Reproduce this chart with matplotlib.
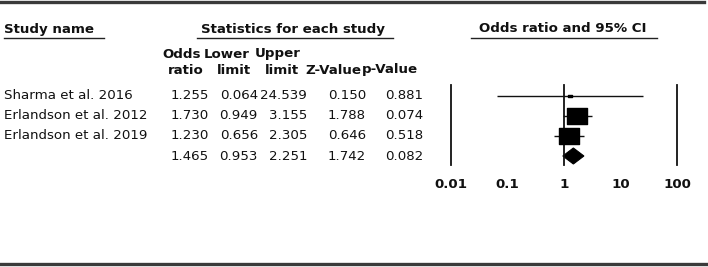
import matplotlib
matplotlib.use("Agg")
import matplotlib.pyplot as plt
from matplotlib.lines import Line2D
from matplotlib.patches import Polygon
from matplotlib.path import Path

# ---------------- data ----------------
studies = ["Sharma et al. 2016", "Erlandson et al. 2012", "Erlandson et al. 2019", ""]
odds_ratio = [1.255, 1.730, 1.230, 1.465]
lower_limit = [0.064, 0.949, 0.656, 0.953]
upper_limit = [24.539, 3.155, 2.305, 2.251]
z_value = [0.150, 1.788, 0.646, 1.742]
p_value = [0.881, 0.074, 0.518, 0.082]
tick_values = [0.01, 0.1, 1, 10, 100]
tick_labels = ["0.01", "0.1", "1", "10", "100"]

# ---------------- figure ----------------
W, H = 708, 267
fig = plt.figure(figsize=(W / 100, H / 100), dpi=100)
FONT = "DejaVu Sans"
FS = 9.6
TXT = "#111111"


def fx(x):
    return x / W


def fy(y):
    return 1 - y / H


def hline(x0, x1, y, lw=1.0, color="#222222"):
    fig.add_artist(Line2D([fx(x0), fx(x1)], [fy(y), fy(y)], lw=lw, color=color,
                          transform=fig.transFigure))


# frame lines
hline(0, 704, 1.5, lw=2.4, color="#3a3a3a")
hline(0, 708, 263.5, lw=2.4, color="#3a3a3a")

# group headers
fig.text(fx(4), fy(29), "Study name", ha="left", va="center", fontsize=FS,
         fontweight="bold", family=FONT, color=TXT)
hline(4, 104, 38)
fig.text(fx(293), fy(29), "Statistics for each study", ha="center", va="center",
         fontsize=FS, fontweight="bold", family=FONT, color=TXT)
hline(197, 393, 38)
fig.text(fx(563), fy(29), "Odds ratio and 95% CI", ha="center", va="center",
         fontsize=FS, fontweight="bold", family=FONT, color=TXT)
hline(471, 657, 38)

# column headers
col_heads = [("Odds", 182, 54), ("ratio", 186, 70), ("Lower", 227, 54), ("limit", 234, 70),
             ("Upper", 278, 54), ("limit", 282, 70), ("Z-Value", 333, 70), ("p-Value", 390, 70)]
for t, x, y in col_heads:
    fig.text(fx(x), fy(y), t, ha="center", va="center", fontsize=FS,
             fontweight="bold", family=FONT, color=TXT)

# forest axes
ax = fig.add_axes([fx(451), fy(165), 226 / W, 80 / H])
ax.set_xscale("log")
ax.set_xlim(0.01, 100)
ax.set_ylim(3.45, -0.55)
for s in ax.spines.values():
    s.set_visible(False)
ax.set_yticks([])
ax.set_xticks(tick_values)
ax.set_xticklabels(tick_labels, fontsize=FS, fontweight="bold", family=FONT, color=TXT)
ax.minorticks_off()
ax.tick_params(axis="x", length=0, pad=9)
ax.patch.set_alpha(0)
for v in [0.01, 1, 100]:
    ax.axvline(v, color="#111111", lw=1.3, clip_on=False)

rows = list(range(len(studies)))

# table text (rows tied to the forest axis y positions)
import matplotlib.transforms as mtrans
tr = mtrans.blended_transform_factory(fig.transFigure, ax.transData)
col_right = [209, 258, 307, 366, 423]
for r in rows:
    if studies[r]:
        fig.text(fx(4), r, studies[r], transform=tr, ha="left", va="center",
                 fontsize=FS, family=FONT, color=TXT)
    vals = [f"{odds_ratio[r]:.3f}", f"{lower_limit[r]:.3f}", f"{upper_limit[r]:.3f}",
            f"{z_value[r]:.3f}", f"{p_value[r]:.3f}"]
    for v, x in zip(vals, col_right):
        fig.text(fx(x), r, v, transform=tr, ha="right", va="center",
                 fontsize=FS, family=FONT, color=TXT)

# study markers
rect = Path([(-1, -0.8), (1, -0.8), (1, 0.8), (-1, 0.8), (-1, -0.8)],
            [Path.MOVETO, Path.LINETO, Path.LINETO, Path.LINETO, Path.CLOSEPOLY])
sizes = [2.6, 15.0, 13.8]
for r in rows[:3]:
    ax.plot([lower_limit[r], upper_limit[r]], [r, r], color="#111111", lw=1.0,
            solid_capstyle="butt")
    ax.plot([odds_ratio[r]], [r], marker=rect, markersize=sizes[r],
            color="black", linestyle="none")

# summary diamond
r = 3
ax.add_patch(Polygon([(lower_limit[r], r), (odds_ratio[r], r - 0.4),
                      (upper_limit[r], r), (odds_ratio[r], r + 0.4)],
                     closed=True, facecolor="black", edgecolor="black", lw=0.8))

fig.savefig("out.png", dpi=100)
